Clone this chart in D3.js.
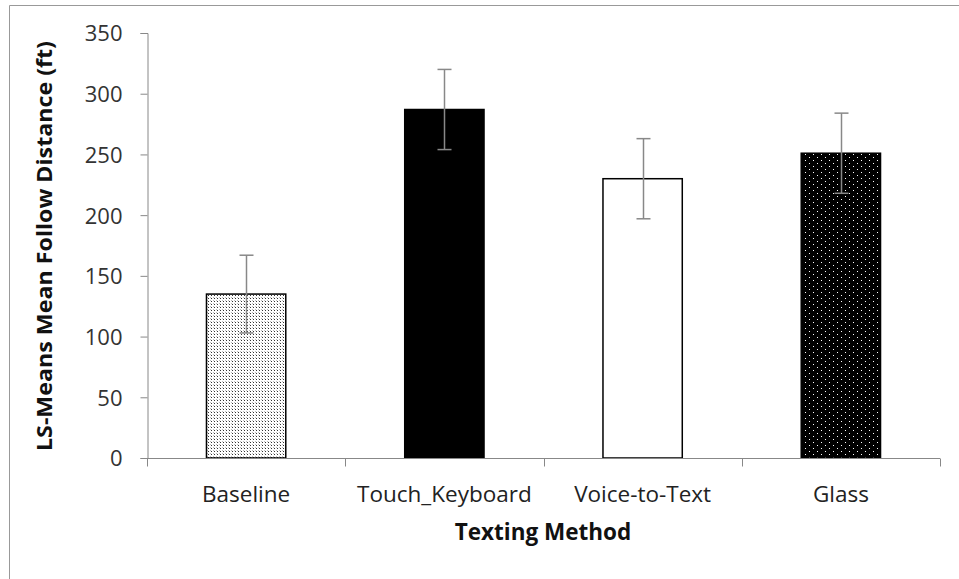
<!DOCTYPE html>
<html><head><meta charset="utf-8">
<script src="https://cdn.jsdelivr.net/npm/d3@7"></script>
<style>body{margin:0;background:#fff}svg{display:block}text{font-family:"Open Sans",sans-serif}</style>
</head><body><svg id="c" width="959" height="579"></svg>
<script>
const categories = ["Baseline","Touch_Keyboard","Voice-to-Text","Glass"];
const means = [135, 287, 230, 251];
const errors = [32, 33, 33, 33];
const yTicks = [0,50,100,150,200,250,300,350];
const fills = ["url(#dotsLight)","#000","#fff","url(#dotsDark)"];

const svg = d3.select("#c");
const defs = svg.append("defs");
const p1 = defs.append("pattern").attr("id","dotsLight").attr("patternUnits","userSpaceOnUse").attr("width",3).attr("height",3);
p1.append("rect").attr("width",3).attr("height",3).attr("fill","#fff");
p1.append("rect").attr("x",1).attr("y",1).attr("width",1).attr("height",1).attr("fill","#333");
p1.append("rect").attr("x",0).attr("y",0).attr("width",1).attr("height",1).attr("fill","#bbb");
const p2 = defs.append("pattern").attr("id","dotsDark").attr("patternUnits","userSpaceOnUse").attr("width",8).attr("height",6);
p2.append("rect").attr("width",8).attr("height",6).attr("fill","#000");
p2.append("rect").attr("x",1).attr("y",1).attr("width",1).attr("height",1).attr("fill","#fff");
p2.append("rect").attr("x",5).attr("y",4).attr("width",1).attr("height",1).attr("fill","#fff");

// outer border
svg.append("path").attr("d","M9.5,590V5.5H970").attr("fill","none").attr("stroke","#999").attr("stroke-width",1);

const x = d3.scaleBand().domain(categories).range([147,940]).paddingInner(0.6).paddingOuter(0.3);
const y = d3.scaleLinear().domain([0,350]).range([458,33]);

// bars
svg.selectAll("rect.bar").data(categories).enter().append("rect")
  .attr("x",d=>x(d)).attr("width",x.bandwidth())
  .attr("y",(d,i)=>y(means[i])).attr("height",(d,i)=>y(0)-y(means[i]))
  .attr("fill",(d,i)=>fills[i]).attr("stroke","#000").attr("stroke-width",1.5);

// error bars
const eg = svg.append("g").attr("stroke","#888").attr("stroke-width",1.5);
categories.forEach((c,i)=>{
  const cx = Math.round(x(c)+x.bandwidth()/2)+0.5;
  eg.append("line").attr("x1",cx).attr("x2",cx).attr("y1",y(means[i]+errors[i])).attr("y2",y(means[i]-errors[i]));
  [means[i]+errors[i], means[i]-errors[i]].forEach(v=>{
    eg.append("line").attr("x1",cx-7).attr("x2",cx+7).attr("y1",y(v)).attr("y2",y(v));
  });
});

// y axis
const ya = svg.append("g").attr("transform","translate(147.5,0)")
  .call(d3.axisLeft(y).tickValues(yTicks).tickSize(7).tickPadding(18));
ya.select(".domain").attr("stroke","#888");
ya.selectAll(".tick line").attr("stroke","#888");
ya.selectAll("text").attr("font-size",22).attr("fill","#333").attr("dy","0.36em").style("font-family","'Open Sans',sans-serif");

// x axis
const xa = svg.append("g").attr("transform","translate(0,458.5)");
xa.append("line").attr("x1",147).attr("x2",940).attr("stroke","#888").attr("stroke-width",1.2);
d3.range(5).forEach(k=>{
  const tx = Math.round(147 + k*(793/4))+0.5;
  xa.append("line").attr("x1",tx).attr("x2",tx).attr("y1",0).attr("y2",8).attr("stroke","#888");
});
xa.selectAll("text.cat").data(categories).enter().append("text")
  .attr("x",d=>x(d)+x.bandwidth()/2).attr("y",43).attr("text-anchor","middle")
  .attr("font-size",22.5).attr("fill","#222").text(d=>d);

svg.append("text").attr("x",543).attr("y",540).attr("text-anchor","middle")
  .attr("font-size",22.5).attr("font-weight","bold").attr("fill","#111").text("Texting Method");
svg.append("text").attr("transform","translate(52,246) rotate(-90)").attr("text-anchor","middle")
  .attr("font-size",21).attr("font-weight","bold").attr("fill","#111")
  .attr("textLength",410).attr("lengthAdjust","spacingAndGlyphs")
  .text("LS-Means Mean Follow Distance (ft)");
</script></body></html>
